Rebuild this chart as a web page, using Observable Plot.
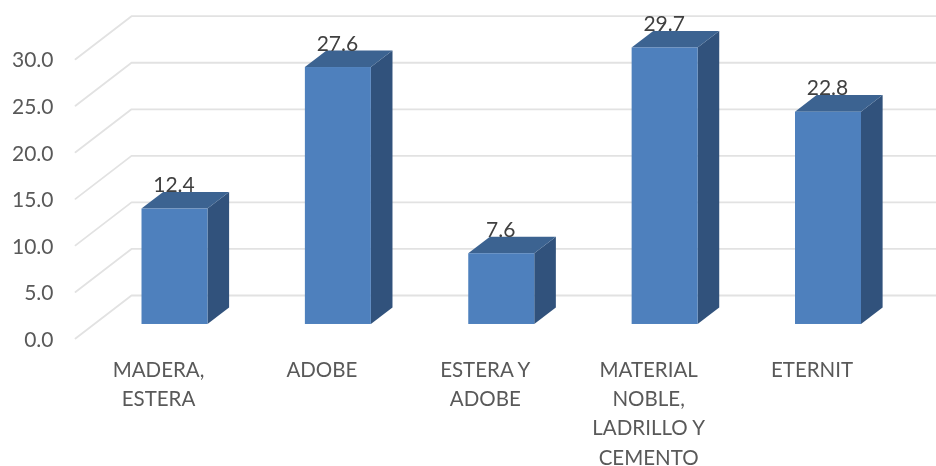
<!DOCTYPE html>
<html>
<head>
<meta charset="utf-8">
<style>html,body{margin:0;padding:0;background:#fff}svg{display:block;filter:blur(0.45px)}</style>
<script src="https://cdn.jsdelivr.net/npm/d3@7"></script>
<script src="https://cdn.jsdelivr.net/npm/@observablehq/plot@0.6"></script>
</head>
<body>
<div id="chart"></div>
<script>
const categories = ["MADERA,\nESTERA", "ADOBE", "ESTERA Y\nADOBE", "MATERIAL\nNOBLE,\nLADRILLO Y\nCEMENTO", "ETERNIT"];
const values = [12.4, 27.6, 7.6, 29.7, 22.8];
const tickValues = [0, 5, 10, 15, 20, 25, 30];

// Oblique projection, in scale units (one band = 1 on x, one percent = 1 on y)
const wallX = 56 / 163.4, wallY = 43 / 9.31;      // front plane -> back wall
const floorZ = 0.326, barZ = 0.386;               // where bars start, how deep they are
const halfBar = 33 / 163.4;
const gridLeft = -0.609, gridRight = 4.7;

const gridRows = tickValues.flatMap(t => [
  {t, x: gridLeft, y: t},
  {t, x: gridLeft + wallX, y: t + wallY},
  {t, x: gridRight, y: t + wallY}
]);
const base = floorZ * wallY;
const rows = values.map((v, i) => ({i, v}));
const sideRows = rows.flatMap(({i, v}) => [0, 1].map(k => ({
  i,
  x: i + halfBar + k * barZ * wallX,
  y1: base + k * barZ * wallY,
  y2: base + v + k * barZ * wallY
})));
const topRows = rows.flatMap(({i, v}) => [0, 1].map(k => ({
  i,
  x1: i - halfBar + k * barZ * wallX,
  x2: i + halfBar + k * barZ * wallX,
  y: base + v + k * barZ * wallY
})));

const chart = Plot.plot({
  width: 936,
  height: 466,
  marginLeft: 53,
  marginBottom: 110.5,
  marginTop: 0,
  marginRight: 0,
  style: {fontFamily: "Lato, Carlito, sans-serif", background: "#fff", overflow: "hidden"},
  x: {type: "linear", domain: [0, 4], range: [174.5, 828]},
  y: {type: "linear", domain: [0, 30], range: [338, 58.7]},
  marks: [
    Plot.line(gridRows, {x: "x", y: "y", z: "t", stroke: "#e2e2e2", strokeWidth: 1.8}),
    Plot.area(sideRows, {x1: "x", y1: "y1", y2: "y2", z: "i", fill: "#31527c"}),
    Plot.area(topRows, {x1: "x1", x2: "x2", y1: "y", z: "i", fill: "#3c6391"}),
    Plot.rect(rows, {
      x1: d => d.i - halfBar,
      x2: d => d.i + halfBar,
      y1: base,
      y2: d => base + d.v,
      fill: "#4e80bd"
    }),
    Plot.text(rows, {
      x: "i",
      y: d => base + d.v,
      text: d => d3.format(".1f")(d.v),
      dy: -23.5,
      dx: -1,
      fontSize: 21,
      fill: "#404040"
    }),
    Plot.axisY({
      ticks: tickValues,
      tickFormat: d3.format(".1f"),
      tickSize: 0,
      tickPadding: 0,
      label: null,
      fontSize: 21,
      dy: 1.5,
      color: "#595959"
    }),
    Plot.axisX({
      ticks: d3.range(categories.length),
      tickFormat: i => categories[i],
      tickSize: 0,
      tickPadding: 0,
      label: null,
      fontSize: 20.5,
      lineHeight: 1.43,
      lineAnchor: "top",
      dx: -16.5,
      color: "#595959"
    })
  ]
});
document.getElementById("chart").append(chart);
</script>
</body>
</html>
